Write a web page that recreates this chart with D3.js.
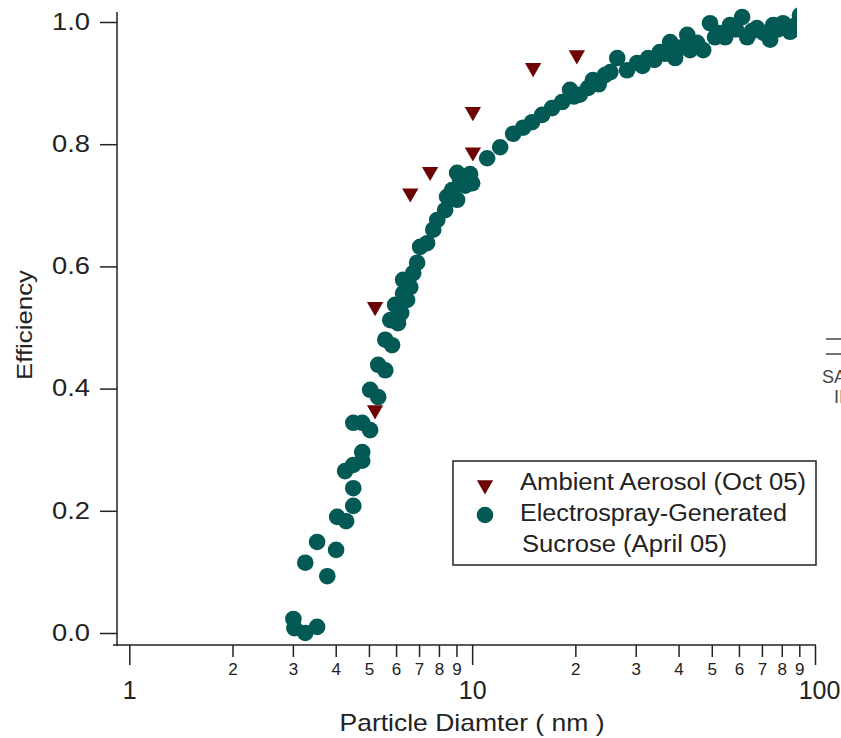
<!DOCTYPE html>
<html>
<head>
<meta charset="utf-8">
<script src="https://cdn.jsdelivr.net/npm/d3@7"></script>
<style>
  body { margin: 0; background: #fff; }
  svg { display: block; font-family: "Liberation Sans", Arial, sans-serif; }
</style>
</head>
<body>
<div id="viz-chart"></div>
<script>
// ambient aerosol (triangles)
const ambientDiam = [5.21, 5.21, 6.6, 7.54, 10.05, 10.05, 15.06, 20.2];
const ambientEff = [0.534, 0.365, 0.72, 0.755, 0.853, 0.787, 0.925, 0.946];

// electrospray sucrose (circles)
const sucroseDiam = [
  3.01, 3.03, 3.26, 3.53, 3.26, 3.53, 3.78, 4.01, 4.04, 4.29,
  4.5, 4.5, 4.26, 4.5, 4.78, 4.78, 4.5, 4.78, 5.04, 5.04,
  5.32, 5.32, 5.58, 5.58, 5.84, 5.77, 6.08, 5.96, 6.29, 6.21,
  6.46, 6.29, 6.6, 6.73, 6.91, 7.05, 7.39, 7.7, 7.91, 8.34,
  8.45, 9.04, 8.74, 9.23, 9.04, 9.86, 10.0, 9.55, 11.06, 12.07,
  13.17, 14.08, 14.96, 16.0, 17.1, 18.3, 19.3, 20.6, 21.8, 22.5,
  24.4, 26.5, 28.3, 30.3, 32.6, 35.3, 37.8, 39.1, 42.4, 43.2,
  47.2, 49.4, 51.1, 54.7, 56.5, 61.3, 63.4, 67.7, 74.0, 75.5,
  80.7, 84.6, 90.4,
  19.8, 23.4, 25.3, 31.4, 34.0, 36.5, 40.5, 45.3, 52.6, 58.8,
  65.5, 70.8, 78.0, 87.5
];
const sucroseEff = [
  0.023, 0.008, 0.0, 0.01, 0.115, 0.149, 0.093, 0.136, 0.19, 0.183,
  0.208, 0.237, 0.265, 0.275, 0.282, 0.296, 0.344, 0.344, 0.332, 0.398,
  0.386, 0.439, 0.43, 0.48, 0.471, 0.512, 0.507, 0.537, 0.556, 0.524,
  0.545, 0.578, 0.566, 0.589, 0.606, 0.632, 0.638, 0.66, 0.676, 0.692,
  0.714, 0.709, 0.725, 0.741, 0.753, 0.751, 0.736, 0.732, 0.777, 0.795,
  0.817, 0.827, 0.836, 0.848, 0.859, 0.869, 0.889, 0.881, 0.892, 0.905,
  0.913, 0.941, 0.921, 0.933, 0.941, 0.951, 0.967, 0.941, 0.979, 0.954,
  0.954, 0.998, 0.975, 0.975, 0.995, 1.008, 0.975, 0.99, 0.971, 0.995,
  0.998, 0.984, 1.011,
  0.878, 0.898, 0.918, 0.928, 0.938, 0.948, 0.958, 0.966, 0.982, 0.988,
  0.985, 0.982, 0.988, 0.994
];

const yTicks = [0, 0.2, 0.4, 0.6, 0.8, 1.0];
const xMajor = [1, 10, 100];
const xMinor = [2, 3, 4, 5, 6, 7, 8, 9, 20, 30, 40, 50, 60, 70, 80, 90];
const legendLabels = ["Ambient Aerosol (Oct 05)", "Electrospray-Generated", "Sucrose (April 05)"];

const teal = "#035a55";
const maroon = "#6e0303";
const ink = "#222";

const svg = d3.select("#viz-chart")
  .append("svg")
  .attr("width", 841)
  .attr("height", 738);

const x = d3.scaleLog().domain([1, 100]).range([129.3, 815]);
const y = d3.scaleLinear().domain([0, 1]).range([633, 22]);

// stretch text to a target width
function stretch(sel, len) {
  sel.attr("textLength", len).attr("lengthAdjust", "spacingAndGlyphs");
}

svg.append("defs").append("clipPath")
  .attr("id", "plot-clip")
  .append("rect")
  .attr("x", 117).attr("y", 0)
  .attr("width", 680).attr("height", 645);

// marks
const plot = svg.append("g").attr("clip-path", "url(#plot-clip)");

const tri = d3.symbol().type(d3.symbolTriangle).size(115);
plot.selectAll("path.ambient")
  .data(ambientDiam.map((d, i) => ({ d: d, e: ambientEff[i] })))
  .enter()
  .append("path")
  .attr("class", "ambient")
  .attr("d", tri)
  .attr("transform", (p) => `translate(${x(p.d)},${y(p.e)}) rotate(180)`)
  .style("fill", maroon);

plot.selectAll("circle")
  .data(sucroseDiam.map((d, i) => ({ d: d, e: sucroseEff[i] })))
  .enter()
  .append("circle")
  .attr("cx", (p) => x(p.d))
  .attr("cy", (p) => y(p.e))
  .attr("r", 8.3)
  .style("fill", teal);

// y axis
const yAxis = svg.append("g")
  .attr("transform", "translate(117,0)")
  .call(d3.axisLeft(y).tickValues(yTicks).tickSize(17).tickPadding(10).tickFormat(d3.format(".1f")));
yAxis.select(".domain").remove();
yAxis.selectAll("line").attr("stroke", ink).attr("stroke-width", 1.5);
yAxis.selectAll("text")
  .style("font-size", "23px")
  .style("fill", ink)
  .call(stretch, 38);
svg.append("line")
  .attr("x1", 117).attr("x2", 117)
  .attr("y1", 12).attr("y2", 646)
  .attr("stroke", ink).attr("stroke-width", 1.5);

// x axis
const xMaj = svg.append("g")
  .attr("transform", "translate(0,645)")
  .call(d3.axisBottom(x).tickValues(xMajor).tickSize(20).tickPadding(16).tickFormat(d3.format("d")));
xMaj.select(".domain").remove();
xMaj.selectAll("line").attr("stroke", ink).attr("stroke-width", 1.5);
xMaj.selectAll("text")
  .attr("dx", (d) => (d === 100 ? 4 : 0))
  .style("font-size", "25px")
  .style("fill", ink);

const xMin = svg.append("g")
  .attr("transform", "translate(0,645)")
  .call(d3.axisBottom(x).tickValues(xMinor).tickSize(12).tickPadding(6).tickFormat(d3.format("d")));
xMin.select(".domain").remove();
xMin.selectAll("line").attr("stroke", ink).attr("stroke-width", 1.5);
xMin.selectAll("text")
  .text((d) => String(d).charAt(0))
  .style("font-size", "17px")
  .style("fill", ink);

svg.append("line")
  .attr("x1", 113).attr("x2", 816)
  .attr("y1", 645).attr("y2", 645)
  .attr("stroke", ink).attr("stroke-width", 1.5);

// axis titles
svg.append("text")
  .attr("x", 472).attr("y", 731)
  .attr("text-anchor", "middle")
  .style("font-size", "24px")
  .style("fill", ink)
  .text("Particle Diamter  ( nm )")
  .call(stretch, 265);

svg.append("text")
  .attr("transform", "translate(32,325) rotate(-90)")
  .attr("text-anchor", "middle")
  .style("font-size", "22px")
  .style("fill", ink)
  .text("Efficiency")
  .call(stretch, 110);

// legend
const legend = svg.append("g");
legend.append("rect")
  .attr("x", 453).attr("y", 461)
  .attr("width", 363).attr("height", 104)
  .style("fill", "#fff")
  .style("stroke", ink)
  .style("stroke-width", 1.5);
legend.append("path")
  .attr("d", tri)
  .attr("transform", "translate(485,485) rotate(180)")
  .style("fill", maroon);
legend.append("circle")
  .attr("cx", 485).attr("cy", 515).attr("r", 8.3)
  .style("fill", teal);

const legendX = [520, 520, 522];
const legendY = [490, 521, 552];
const legendW = [286, 267, 205];
legend.selectAll("text")
  .data(legendLabels)
  .enter()
  .append("text")
  .attr("x", (d, i) => legendX[i])
  .attr("y", (d, i) => legendY[i])
  .style("font-size", "23px")
  .style("fill", ink)
  .text((d) => d)
  .each(function (d, i) { d3.select(this).call(stretch, legendW[i]); });

// clipped fragment at the right edge
const frag = svg.append("g").style("fill", "#444");
frag.append("line").attr("x1", 826).attr("x2", 841).attr("y1", 339).attr("y2", 339)
  .attr("stroke", "#444").attr("stroke-width", 1.5);
frag.append("line").attr("x1", 826).attr("x2", 841).attr("y1", 354).attr("y2", 354)
  .attr("stroke", "#444").attr("stroke-width", 1.5);
frag.append("text").attr("x", 822).attr("y", 383).style("font-size", "18px").text("SA");
frag.append("text").attr("x", 834).attr("y", 403).style("font-size", "18px").text("II");
</script>
</body>
</html>
